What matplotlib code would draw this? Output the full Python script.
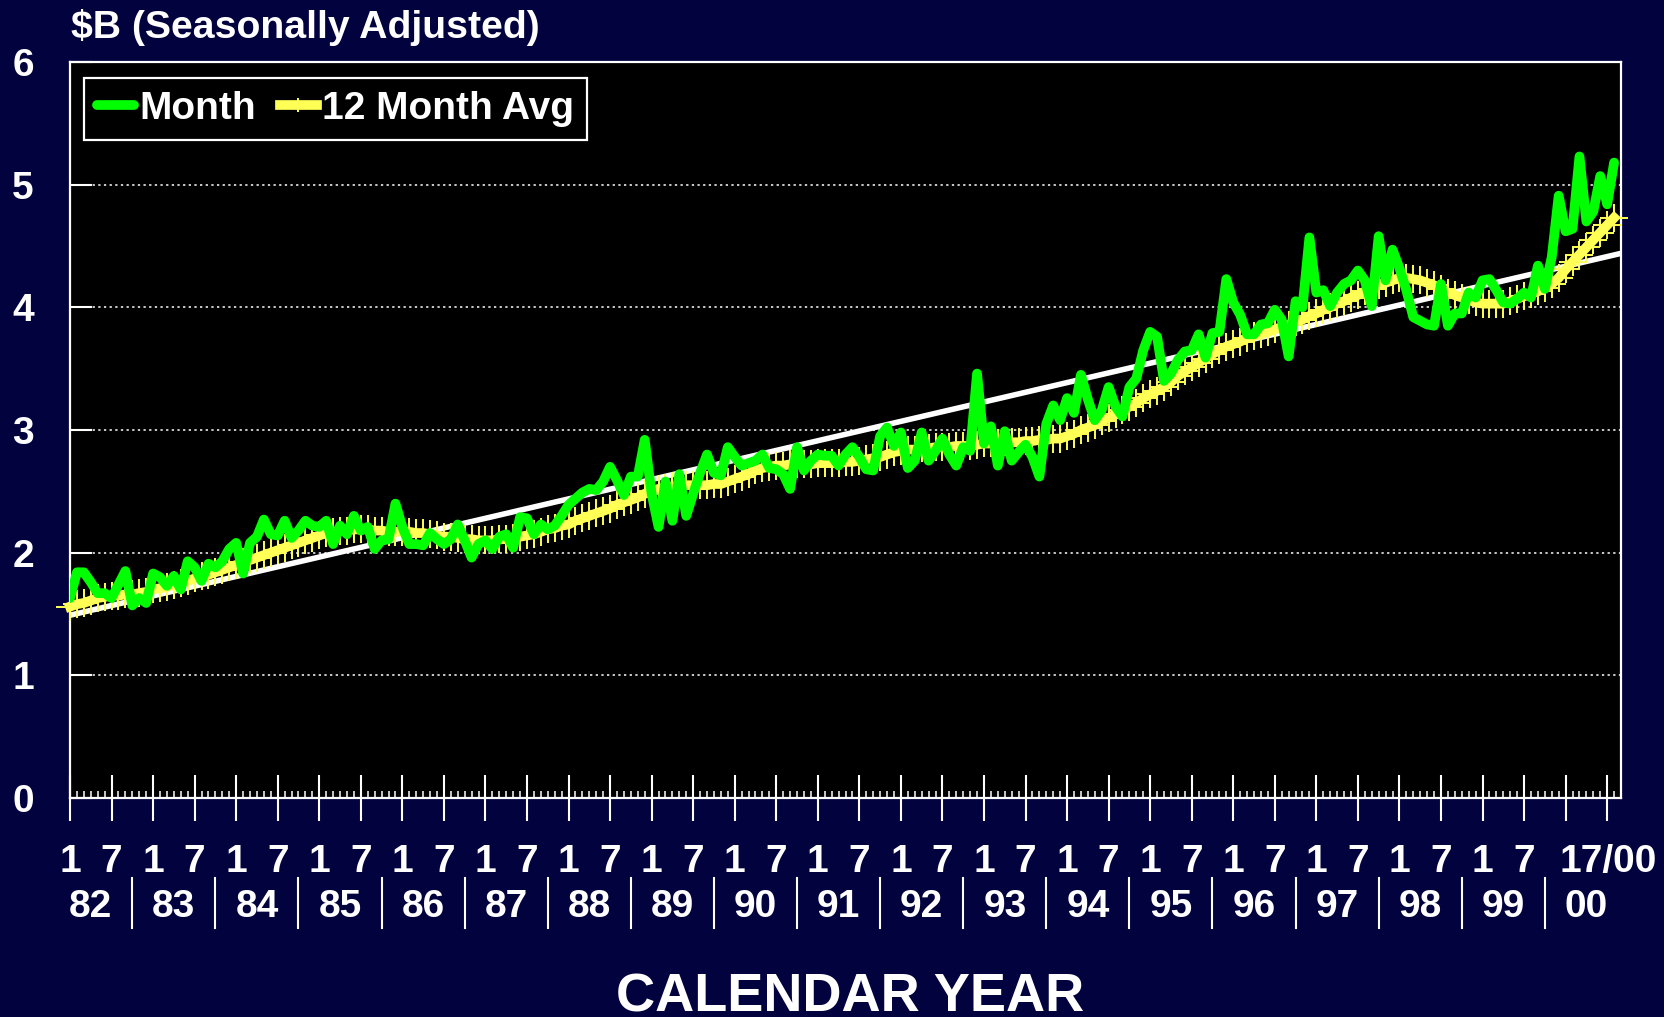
import numpy as np
import matplotlib
matplotlib.use("Agg")
import matplotlib.pyplot as plt

# monthly values, Jan 1982 .. Aug 2000 ($B, seasonally adjusted)
month_vals = [
    1.63, 1.84, 1.84, 1.76, 1.67, 1.67, 1.63, 1.74, 1.85, 1.57, 1.63, 1.59,  # 82
    1.83, 1.80, 1.73, 1.81, 1.70, 1.93, 1.88, 1.77, 1.91, 1.88, 1.93, 2.03,  # 83
    2.08, 1.83, 2.08, 2.13, 2.27, 2.15, 2.14, 2.26, 2.12, 2.18, 2.26, 2.22,  # 84
    2.21, 2.26, 2.07, 2.22, 2.15, 2.30, 2.18, 2.21, 2.03, 2.10, 2.11, 2.40,  # 85
    2.21, 2.07, 2.07, 2.06, 2.16, 2.11, 2.07, 2.11, 2.23, 2.10, 1.96, 2.07,  # 86
    2.10, 2.03, 2.13, 2.15, 2.04, 2.29, 2.28, 2.15, 2.23, 2.19, 2.22, 2.30,  # 87
    2.39, 2.44, 2.49, 2.52, 2.51, 2.58, 2.70, 2.59, 2.47, 2.62, 2.62, 2.92,  # 88
    2.48, 2.21, 2.58, 2.26, 2.64, 2.30, 2.48, 2.65, 2.80, 2.65, 2.63, 2.86,  # 89
    2.78, 2.71, 2.73, 2.75, 2.80, 2.69, 2.68, 2.64, 2.52, 2.86, 2.67, 2.75,  # 90
    2.80, 2.79, 2.79, 2.71, 2.80, 2.86, 2.78, 2.68, 2.67, 2.95, 3.02, 2.87,  # 91
    2.98, 2.69, 2.75, 2.98, 2.75, 2.83, 2.93, 2.80, 2.71, 2.86, 2.83, 3.46,  # 92
    2.89, 3.03, 2.71, 2.99, 2.75, 2.82, 2.88, 2.78, 2.62, 3.05, 3.20, 3.08,  # 93
    3.26, 3.14, 3.45, 3.25, 3.08, 3.16, 3.35, 3.19, 3.11, 3.35, 3.42, 3.65,  # 94
    3.80, 3.76, 3.40, 3.46, 3.57, 3.64, 3.65, 3.78, 3.59, 3.79, 3.80, 4.23,  # 95
    4.04, 3.94, 3.78, 3.78, 3.86, 3.87, 3.98, 3.90, 3.60, 4.05, 4.00, 4.57,  # 96
    4.12, 4.14, 4.01, 4.12, 4.19, 4.22, 4.30, 4.22, 4.01, 4.58, 4.22, 4.47,  # 97
    4.32, 4.14, 3.92, 3.89, 3.86, 3.85, 4.19, 3.85, 3.95, 3.95, 4.12, 4.08,  # 98
    4.22, 4.23, 4.14, 4.04, 4.03, 4.07, 4.12, 4.08, 4.34, 4.15, 4.41, 4.91,  # 99
    4.62, 4.64, 5.23, 4.70, 4.78, 5.07, 4.84, 5.18,                          # 00
]

# 12 month average, same months
avg_vals = [
    1.56, 1.58, 1.59, 1.61, 1.63, 1.64, 1.65, 1.65, 1.66, 1.66, 1.67, 1.68,
    1.70, 1.71, 1.72, 1.74, 1.75, 1.77, 1.79, 1.81, 1.82, 1.84, 1.86, 1.88,
    1.90, 1.92, 1.94, 1.96, 1.98, 2.00, 2.02, 2.04, 2.06, 2.08, 2.10, 2.12,
    2.14, 2.16, 2.17, 2.18, 2.18, 2.19, 2.19, 2.19, 2.18, 2.18, 2.17, 2.17,
    2.17, 2.17, 2.16, 2.16, 2.15, 2.14, 2.13, 2.13, 2.12, 2.11, 2.11, 2.10,
    2.10, 2.10, 2.11, 2.11, 2.12, 2.13, 2.14, 2.15, 2.17, 2.19, 2.20, 2.22,
    2.23, 2.26, 2.28, 2.30, 2.32, 2.34, 2.36, 2.39, 2.41, 2.43, 2.45, 2.48,
    2.50, 2.52, 2.53, 2.54, 2.54, 2.55, 2.55, 2.55, 2.55, 2.56, 2.56, 2.58,
    2.60, 2.62, 2.64, 2.67, 2.69, 2.70, 2.71, 2.71, 2.72, 2.72, 2.72, 2.72,
    2.73, 2.73, 2.73, 2.73, 2.74, 2.74, 2.75, 2.76, 2.77, 2.78, 2.80, 2.82,
    2.83, 2.84, 2.84, 2.85, 2.85, 2.86, 2.86, 2.86, 2.87, 2.87, 2.87, 2.88,
    2.89, 2.89, 2.89, 2.90, 2.90, 2.90, 2.91, 2.91, 2.92, 2.92, 2.93, 2.93,
    2.95, 2.97, 3.00, 3.02, 3.04, 3.07, 3.10, 3.13, 3.16, 3.19, 3.22, 3.26,
    3.29, 3.32, 3.35, 3.39, 3.44, 3.48, 3.51, 3.55, 3.58, 3.62, 3.65, 3.68,
    3.70, 3.72, 3.75, 3.77, 3.78, 3.80, 3.82, 3.84, 3.86, 3.88, 3.90, 3.93,
    3.95, 3.98, 4.00, 4.03, 4.05, 4.08, 4.10, 4.13, 4.15, 4.18, 4.20, 4.22,
    4.24, 4.24, 4.23, 4.22, 4.20, 4.18, 4.15, 4.12, 4.10, 4.08, 4.06, 4.04,
    4.03, 4.03, 4.03, 4.03, 4.05, 4.07, 4.09, 4.11, 4.13, 4.16, 4.19, 4.24,
    4.31, 4.37, 4.43, 4.49, 4.55, 4.61, 4.67, 4.73,
]

# straight trend line (white), at first and last month of the axis
trend_months = [0, 224]
trend_vals = [1.49, 4.44]

year_labels = ["82", "83", "84", "85", "86", "87", "88", "89", "90", "91",
               "92", "93", "94", "95", "96", "97", "98", "99", "00"]
last_label = "17/00"
y_ticks = [0, 1, 2, 3, 4, 5, 6]

BG = "#02023f"
GREEN = "#00ff00"
YELLOW = "#ffff55"

plt.rcParams["font.family"] = ["Liberation Sans", "DejaVu Sans"]
plt.rcParams["font.weight"] = "bold"

months = np.arange(len(month_vals))

fig = plt.figure(figsize=(16.64, 10.17), dpi=100, facecolor=BG)
ax = fig.add_axes([70 / 1664, 1 - 798 / 1017, 1551 / 1664, 736 / 1017])
ax.set_facecolor("black")

ax.plot(trend_months, trend_vals, color="white", lw=4, zorder=2)
avg_line, = ax.plot(months, avg_vals, color=YELLOW, lw=7, marker="+", ms=20,
                    mew=1.4, zorder=3, clip_on=False)
month_line, = ax.plot(months, month_vals, color=GREEN, lw=7, zorder=4,
                      solid_joinstyle="round", solid_capstyle="round")

ax.set_xlim(0, 224)
ax.set_ylim(0, 6)

for v in y_ticks[1:-1]:
    ax.axhline(v, color="white", lw=1.1, ls=(0, (1.5, 2.2)), zorder=1)

for s in ax.spines.values():
    s.set_color("white")
    s.set_linewidth(1.6)

ax.set_yticks(y_ticks)
ax.set_yticklabels([str(t) for t in y_ticks], fontsize=28, fontweight="bold")
ax.tick_params(axis="y", direction="in", length=16, width=1.5, color="white",
               labelcolor="white", pad=26)

major = np.arange(0, 224, 6)
ax.set_xticks(major)
ax.set_xticks(months, minor=True)
ax.tick_params(axis="x", which="major", direction="inout", length=33, width=1.5,
               color="white", labelbottom=False)
ax.tick_params(axis="x", which="minor", direction="in", length=5, width=1.1,
               color="white")

xt = ax.get_xaxis_transform()
for m in major[:-2]:
    lab = "1" if m % 12 == 0 else "7"
    ax.text(m, -0.1005, lab, transform=xt, ha="center", va="baseline",
            color="white", fontsize=28, fontweight="bold")
# final year: Jan and Jul written together
ax.text(major[-2] - 0.9, -0.1005, last_label, transform=xt, ha="left",
        va="baseline", color="white", fontsize=28, fontweight="bold")

for i, yl in enumerate(year_labels):
    ax.text(12 * i + 3, -0.1617, yl, transform=xt, ha="center", va="baseline",
            color="white", fontsize=28, fontweight="bold")
    if i < len(year_labels) - 1:
        ax.plot([12 * i + 9, 12 * i + 9], [-0.1087, -0.1766], transform=xt,
                color="white", lw=1.5, clip_on=False)

fig.text(71 / 1664, 1 - 38 / 1017, r"\$B (Seasonally Adjusted)", color="white",
         fontsize=28.3, fontweight="bold", ha="left", va="baseline")
fig.text(850 / 1664, 6 / 1017, "CALENDAR YEAR", color="white", fontsize=39,
         fontweight="bold", ha="center", va="baseline")

leg = ax.legend([month_line, avg_line], ["Month", "12 Month Avg"],
                loc="upper left", bbox_to_anchor=(84 / 1664, 1 - 78 / 1017),
                bbox_transform=fig.transFigure, ncol=2, fancybox=False,
                facecolor="black", edgecolor="white", framealpha=1,
                borderaxespad=0, borderpad=0.33, handlelength=0.95,
                handletextpad=0.15, columnspacing=0.6, markerscale=0.5,
                numpoints=1, labelcolor="white",
                prop=dict(family="Liberation Sans", weight="bold", size=28))
leg.get_frame().set_linewidth(1.6)
leg.set_zorder(10)

fig.savefig("out.png", dpi=100, facecolor=BG)
